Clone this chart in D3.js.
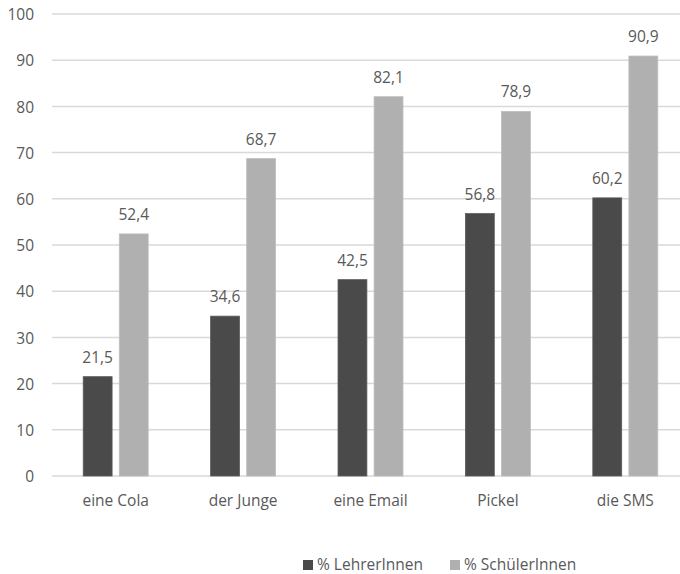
<!DOCTYPE html>
<html>
<head>
<meta charset="utf-8">
<script src="https://cdn.jsdelivr.net/npm/d3@7"></script>
<style>
  html, body { margin: 0; padding: 0; background: #fff; }
  svg { display: block; }
  text { font-family: "Open Sans", sans-serif; font-size: 15.5px; fill: #595959; }
</style>
</head>
<body>
<svg id="chart" width="680" height="574"></svg>
<script>
const categories = ["eine Cola", "der Junge", "eine Email", "Pickel", "die SMS"];
const seriesNames = ["% LehrerInnen", "% SchülerInnen"];
const lehrer = [21.5, 34.6, 42.5, 56.8, 60.2];
const schueler = [52.4, 68.7, 82.1, 78.9, 90.9];
const yTicks = [0, 10, 20, 30, 40, 50, 60, 70, 80, 90, 100];
const colors = ["#4a4a4a", "#b0b0b0"];

const seriesValues = [lehrer, schueler];
const svg = d3.select("#chart");

const x0 = d3.scaleBand().domain(categories).range([52, 689]).paddingInner(0.49).paddingOuter(0.245);
const x1 = d3.scaleBand().domain(seriesNames).range([0, x0.bandwidth()]).paddingInner(0.2);
const y = d3.scaleLinear().domain([0, 100]).range([476, 14]);

// gridlines
svg.append("g").selectAll("line").data(yTicks).join("line")
  .attr("x1", 52).attr("x2", 689)
  .attr("y1", d => y(d)).attr("y2", d => y(d))
  .attr("stroke", "#d9d9d9").attr("stroke-width", 1.5);

// y axis labels
const yAxis = d3.axisLeft(y).tickValues(yTicks).tickSize(0).tickPadding(0).tickFormat(d3.format("d"));
const ya = svg.append("g").attr("transform", "translate(34,0)").call(yAxis);
ya.select(".domain").remove();
ya.selectAll("text").attr("dy", null).attr("y", 5.6).attr("x", 0)
  .style("font-family", '"Open Sans", sans-serif').style("font-size", "15.5px").attr("fill", "#595959");

// bars
const fmt = v => String(v).replace(".", ",");
categories.forEach((c, i) => {
  const g = svg.append("g").attr("transform", `translate(${x0(c)},0)`);
  seriesNames.forEach((s, j) => {
    const v = seriesValues[j][i];
    g.append("rect")
      .attr("x", x1(s)).attr("width", x1.bandwidth())
      .attr("y", y(v)).attr("height", y(0) - y(v))
      .attr("fill", colors[j])
      .attr("stroke", j === 0 ? "#5a5a5a" : "#bdbdbd").attr("stroke-width", 0.8);
    g.append("text")
      .attr("x", x1(s) + x1.bandwidth() / 2)
      .attr("y", y(v) - 14)
      .attr("text-anchor", "middle")
      .text(fmt(v));
  });
});

// x axis labels
const xAxis = d3.axisBottom(x0).tickSize(0).tickPadding(0);
const xa = svg.append("g").attr("transform", "translate(0,506)").call(xAxis);
xa.select(".domain").remove();
xa.selectAll("text").attr("dy", null).attr("y", 0)
  .style("font-family", '"Open Sans", sans-serif').style("font-size", "15.5px").attr("fill", "#595959");

// legend
const legendX = [303, 450];
seriesNames.forEach((s, j) => {
  svg.append("rect").attr("x", legendX[j]).attr("y", 560).attr("width", 10).attr("height", 10).attr("fill", colors[j]);
  svg.append("text").attr("x", legendX[j] + 14).attr("y", 570).text(s);
});
</script>
</body>
</html>
